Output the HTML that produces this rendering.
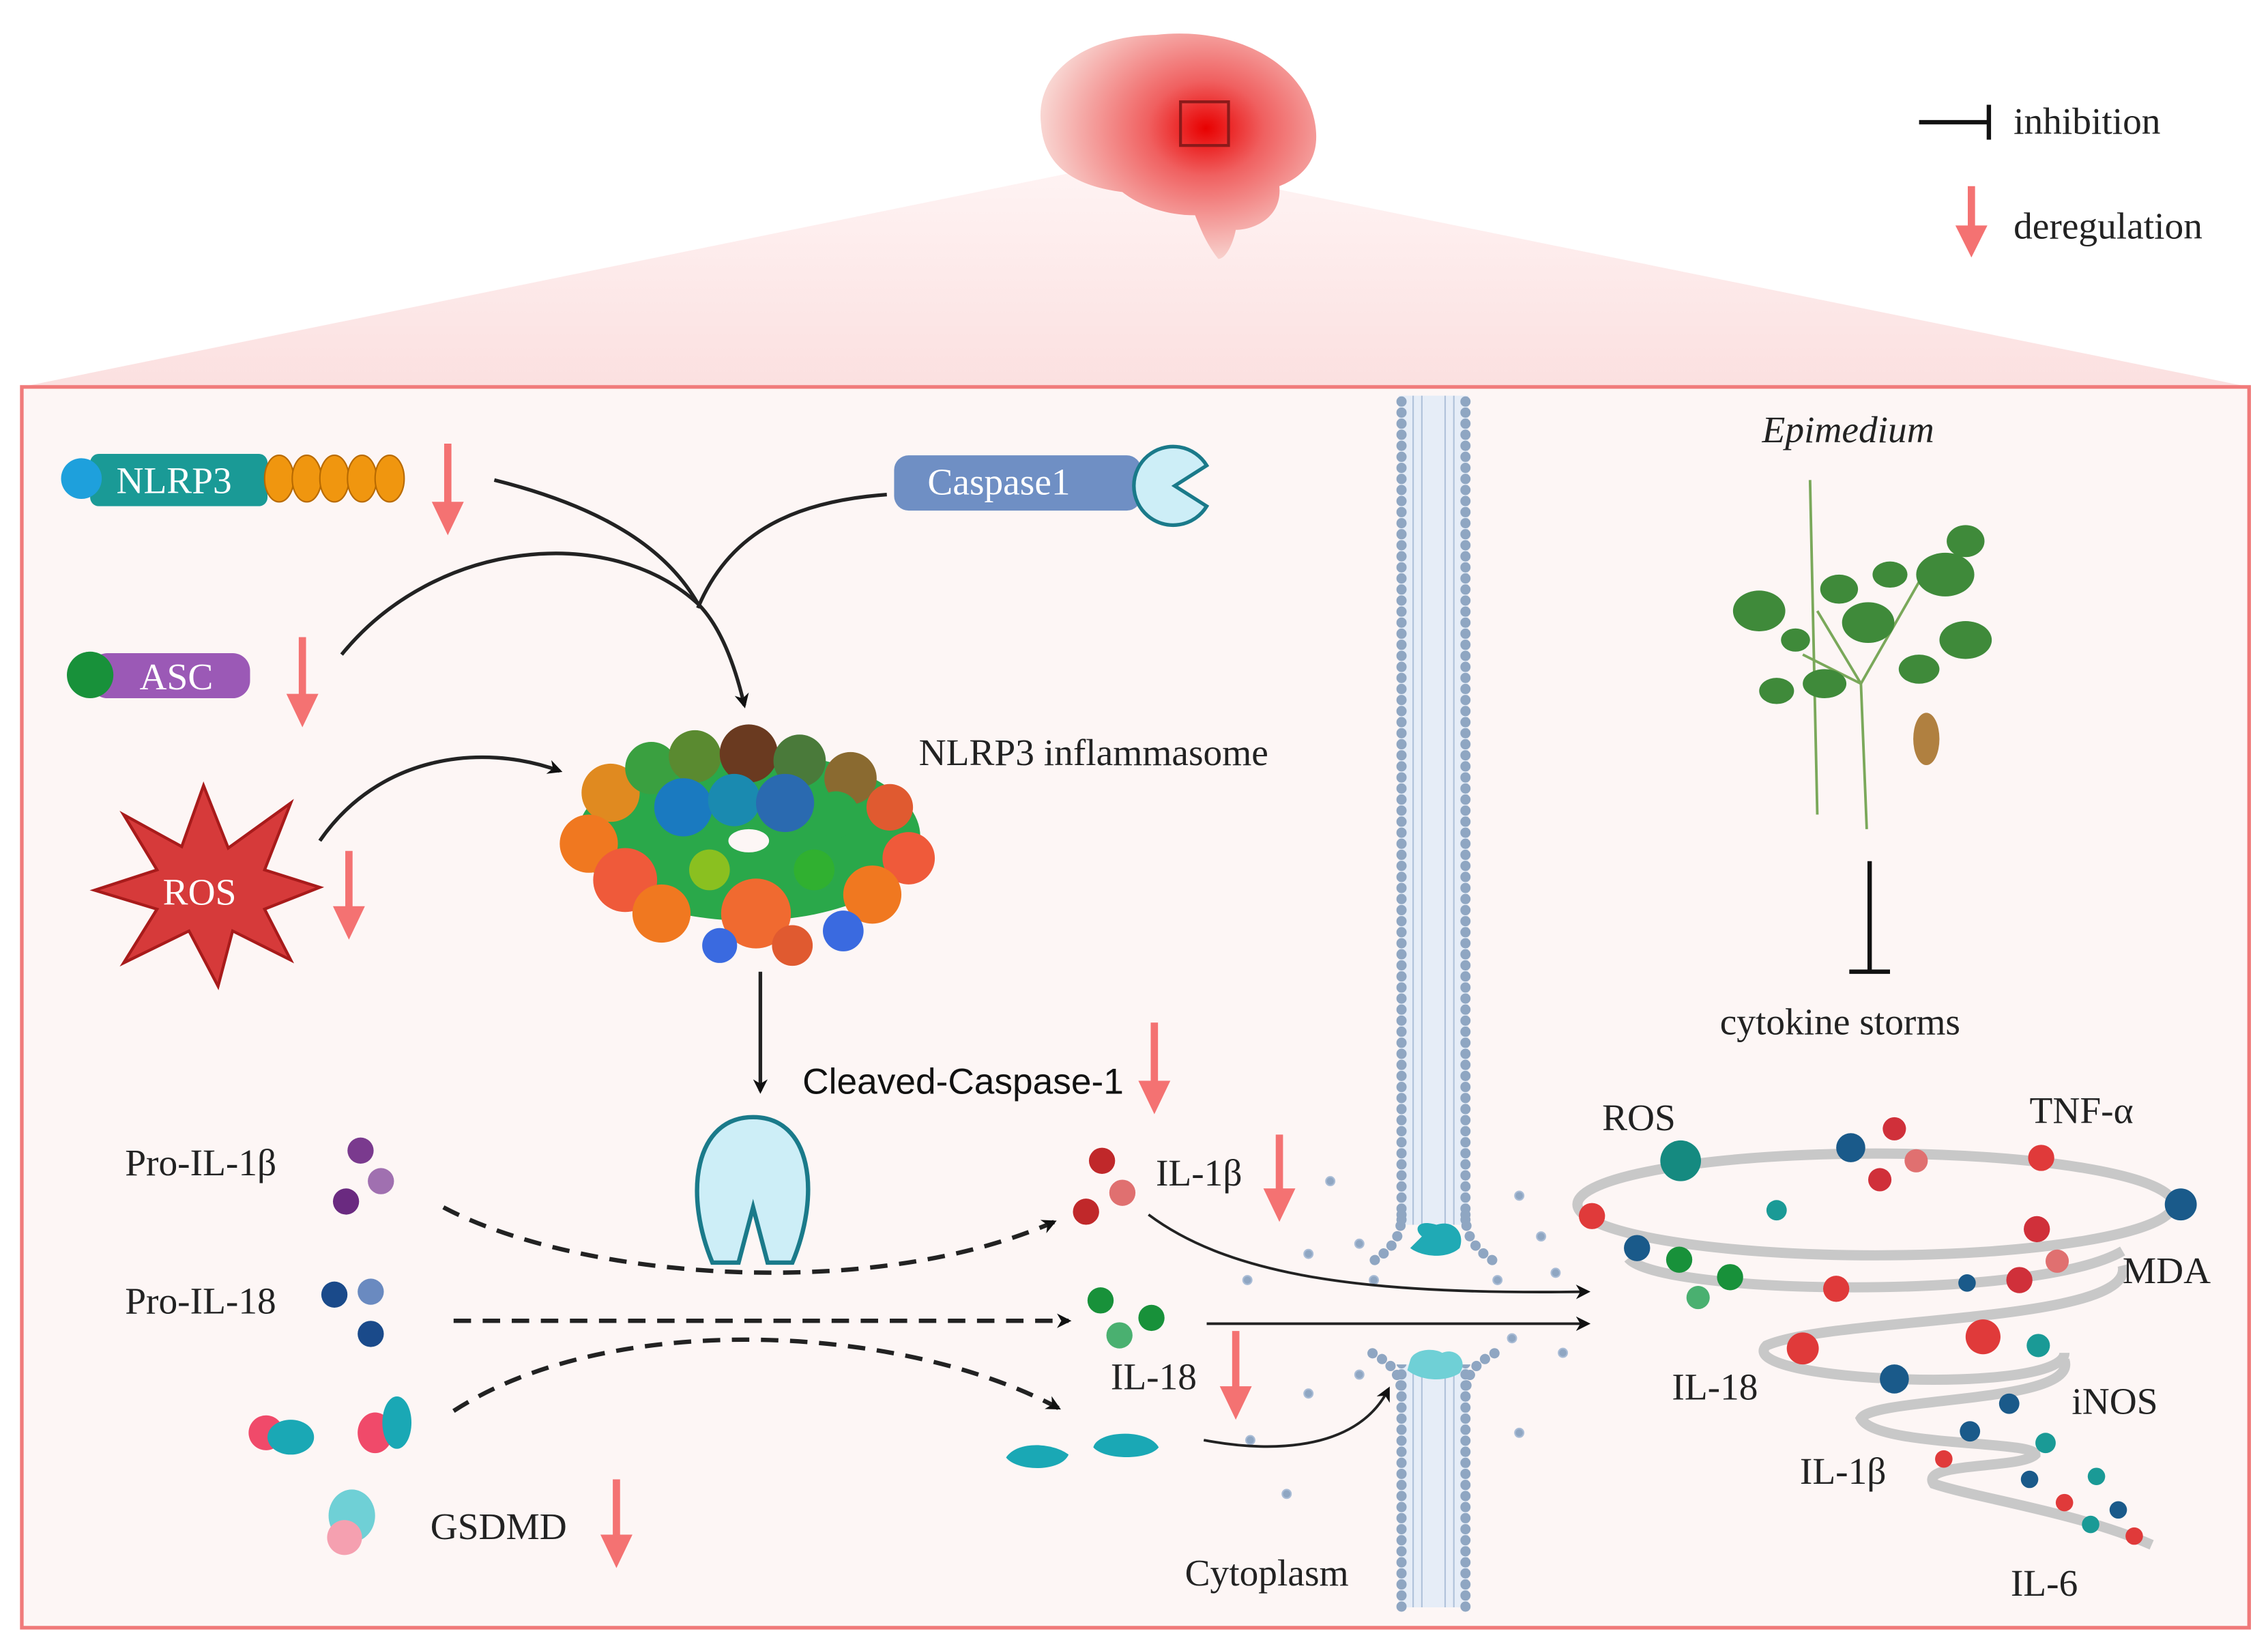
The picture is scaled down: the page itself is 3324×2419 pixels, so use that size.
<!DOCTYPE html>
<html><head><meta charset="utf-8"><style>
html,body{margin:0;padding:0;background:#fff}
svg{display:block}
text{font-family:"Liberation Serif",serif}
</style></head><body>
<svg width="3324" height="2419" viewBox="0 0 1560 1135" preserveAspectRatio="none" xmlns="http://www.w3.org/2000/svg">
<defs>
<linearGradient id="tri" x1="0" y1="0" x2="0" y2="1"><stop offset="0" stop-color="#fff4f4"/><stop offset="1" stop-color="#fbe0e0"/></linearGradient>
<radialGradient id="brainG" cx="0.6" cy="0.42" r="0.6"><stop offset="0" stop-color="#e80000"/><stop offset="0.35" stop-color="#f06060"/><stop offset="1" stop-color="#f8d6d2"/></radialGradient>
<marker id="ah" markerWidth="10" markerHeight="10" refX="8" refY="5" orient="auto" markerUnits="userSpaceOnUse"><path d="M0,0 L10,5 L0,10 L3,5z" fill="#111"/></marker>
</defs>
<polygon points="780,110 15,266 1547,266" fill="url(#tri)"/>
<rect x="15" y="266" width="1532" height="853" fill="#fdf6f5" stroke="#f07a7a" stroke-width="2.5"/>
<!-- brain -->
<path d="M716,85 C712,50 745,25 795,24 C845,18 895,40 904,82 C910,110 895,122 880,128 C882,150 862,158 850,158 C848,168 843,178 838,178 C830,168 826,158 822,148 C800,148 782,140 772,132 C740,128 718,115 716,85z" fill="url(#brainG)"/>
<rect x="812" y="70" width="33" height="30" fill="none" stroke="#8b1a1a" stroke-width="2"/>
<!-- legend -->
<line x1="1320" y1="84" x2="1368" y2="84" stroke="#111" stroke-width="3"/>
<line x1="1368" y1="72" x2="1368" y2="96" stroke="#111" stroke-width="3"/>
<text x="1385" y="92" font-size="26" fill="#222">inhibition</text>
<line x1="1356" y1="128" x2="1356" y2="160" stroke="#f47272" stroke-width="5"/>
<polygon points="1345,155 1367,155 1356,177" fill="#f47272"/>
<text x="1385" y="164" font-size="26" fill="#222">deregulation</text>
<!-- membrane -->
<rect x="962" y="272" width="48" height="833" fill="#e6edf7"/>
<g stroke="#b0c2da" stroke-width="1" fill="none">
<line x1="972" y1="272" x2="972" y2="1105"/><line x1="978" y1="272" x2="978" y2="1105"/><line x1="994" y1="272" x2="994" y2="1105"/><line x1="1000" y1="272" x2="1000" y2="1105"/>
</g>
<g stroke="#8fa6c2" stroke-width="7" stroke-dasharray="0.1,7.5" stroke-linecap="round" fill="none">
<line x1="964" y1="276" x2="964" y2="1105"/><line x1="1008" y1="276" x2="1008" y2="1105"/>
</g>
<rect x="950" y="842" width="72" height="96" fill="#fdf6f5"/>
<path d="M964,835 C964,855 952,862 940,870 M1008,835 C1008,855 1020,862 1032,870 M964,960 C964,940 952,935 940,928 M1008,960 C1008,940 1020,935 1032,928" stroke="#8fa6c2" stroke-width="7" stroke-dasharray="0.1,7.5" stroke-linecap="round" fill="none"/>
<path d="M978,850 C972,845 975,838 988,842 C1000,838 1008,848 1004,858 C995,866 978,864 970,858z" fill="#20aab5"/>
<path d="M970,935 C972,928 985,926 992,930 C1002,926 1010,936 1004,944 C995,950 978,950 968,942z" fill="#6fd0d6"/>
<g fill="#8fa6c2" stroke="#a9bcd6" stroke-width="1">
<circle cx="858" cy="880" r="3"/><circle cx="900" cy="862" r="3"/><circle cx="935" cy="855" r="3"/><circle cx="1045" cy="822" r="3"/><circle cx="1060" cy="850" r="3"/><circle cx="1070" cy="875" r="3"/><circle cx="900" cy="958" r="3"/><circle cx="935" cy="945" r="3"/><circle cx="1040" cy="920" r="3"/><circle cx="1075" cy="930" r="3"/><circle cx="1045" cy="985" r="3"/><circle cx="885" cy="1027" r="3"/><circle cx="860" cy="990" r="3"/><circle cx="915" cy="812" r="3"/><circle cx="945" cy="880" r="3"/><circle cx="1030" cy="880" r="3"/>
</g>
<!-- NLRP3 -->
<rect x="62" y="312" width="122" height="36" rx="6" fill="#1a9a96"/>
<circle cx="56" cy="329" r="14" fill="#1ea0dc"/>
<g fill="#f0960f" stroke="#b86a00" stroke-width="1"><ellipse cx="192" cy="329" rx="10" ry="16"/><ellipse cx="211" cy="329" rx="10" ry="16"/><ellipse cx="230" cy="329" rx="10" ry="16"/><ellipse cx="249" cy="329" rx="10" ry="16"/><ellipse cx="268" cy="329" rx="10" ry="16"/></g>
<text x="80" y="339" font-size="26" fill="#fff">NLRP3</text>
<rect x="62" y="449" width="110" height="31" rx="12" fill="#9b59b6"/>
<circle cx="62" cy="464" r="16" fill="#18913a"/>
<text x="96" y="474" font-size="26" fill="#fff">ASC</text>
<rect x="615" y="313" width="170" height="38" rx="10" fill="#6f8fc4"/>
<text x="638" y="340" font-size="26" fill="#fff">Caspase1</text>
<path d="M830,320 A27,27 0 1 0 830,348 L808,334z" fill="#cdeef7" stroke="#1a7a8a" stroke-width="2.5"/>
<polygon points="140,540 157,583 200,552 182,598 220,610 182,625 200,660 160,640 150,678 130,640 85,662 108,625 65,612 108,598 85,560 125,582" fill="#d63a3a" stroke="#a81b1b" stroke-width="2"/>
<text x="112" y="622" font-size="26" fill="#fff">ROS</text>
<g fill="#f47272" stroke="#f47272">
<line x1="308" y1="305" x2="308" y2="350" stroke-width="5"/><polygon points="297,345 319,345 308,368" stroke="none"/>
<line x1="208" y1="438" x2="208" y2="482" stroke-width="5"/><polygon points="197,477 219,477 208,500" stroke="none"/>
<line x1="240" y1="585" x2="240" y2="628" stroke-width="5"/><polygon points="229,623 251,623 240,646" stroke="none"/>
<line x1="794" y1="703" x2="794" y2="748" stroke-width="5"/><polygon points="783,743 805,743 794,766" stroke="none"/>
<line x1="880" y1="780" x2="880" y2="822" stroke-width="5"/><polygon points="869,817 891,817 880,840" stroke="none"/>
<line x1="850" y1="915" x2="850" y2="958" stroke-width="5"/><polygon points="839,953 861,953 850,976" stroke="none"/>
<line x1="424" y1="1017" x2="424" y2="1060" stroke-width="5"/><polygon points="413,1055 435,1055 424,1078" stroke="none"/>
</g>
<g fill="none" stroke="#222" stroke-width="2.5">
<path d="M340,330 C420,350 460,380 480,415"/>
<path d="M610,340 C540,345 500,370 480,418"/>
<path d="M235,450 C300,370 420,360 480,415 C495,430 505,455 512,485" marker-end="url(#ah)"/>
<path d="M220,578 C260,520 330,510 385,530" marker-end="url(#ah)"/>
<path d="M523,668 L523,750" marker-end="url(#ah)"/>
<path d="M790,835 C850,880 950,890 1092,888" stroke-width="1.8" marker-end="url(#ah)"/>
<path d="M830,910 L1092,910" stroke-width="1.8" marker-end="url(#ah)"/>
<path d="M828,990 C880,1000 935,995 955,955" stroke-width="1.8" marker-end="url(#ah)"/>
</g>
<g fill="none" stroke="#222" stroke-width="3" stroke-dasharray="12,8">
<path d="M305,830 C400,880 600,895 725,840" marker-end="url(#ah)"/>
<path d="M312,908 L735,908" marker-end="url(#ah)"/>
<path d="M312,970 C420,900 620,910 728,968" marker-end="url(#ah)"/>
</g>
<!-- inflammasome (textured) -->
<g>
<ellipse cx="515" cy="575" rx="118" ry="58" fill="#2aa84a"/>
<circle cx="420" cy="545" r="20" fill="#e08a20"/><circle cx="448" cy="528" r="18" fill="#3aa040"/><circle cx="478" cy="520" r="18" fill="#5a8a30"/><circle cx="515" cy="518" r="20" fill="#6a3a20"/><circle cx="550" cy="523" r="18" fill="#4a7a3a"/><circle cx="585" cy="535" r="18" fill="#8a6a30"/><circle cx="612" cy="555" r="16" fill="#e05a30"/>
<circle cx="470" cy="555" r="20" fill="#1a7ac0"/><circle cx="505" cy="550" r="18" fill="#1a8ab0"/><circle cx="540" cy="552" r="20" fill="#2a6ab0"/><circle cx="575" cy="560" r="16" fill="#2aa84a"/>
<circle cx="405" cy="580" r="20" fill="#f07820"/><circle cx="430" cy="605" r="22" fill="#ef5a3a"/><circle cx="455" cy="628" r="20" fill="#f07820"/><circle cx="625" cy="590" r="18" fill="#ef5a3a"/><circle cx="600" cy="615" r="20" fill="#f07820"/>
<circle cx="520" cy="628" r="24" fill="#f06a30"/><circle cx="495" cy="650" r="12" fill="#3a6ae0"/><circle cx="545" cy="650" r="14" fill="#e05a30"/><circle cx="580" cy="640" r="14" fill="#3a6ae0"/><circle cx="488" cy="598" r="14" fill="#8ac020"/><circle cx="560" cy="598" r="14" fill="#30b030"/>
<ellipse cx="515" cy="578" rx="14" ry="8" fill="#fdf6f5"/>
</g>
<text x="632" y="526" font-size="26" fill="#222">NLRP3 inflammasome</text>
<text x="552" y="752" font-size="25" fill="#111" style="font-family:'Liberation Sans',sans-serif">Cleaved-Caspase-1</text>
<path d="M518,768 C478,768 470,820 490,868 L508,868 L518,830 L528,868 L545,868 C565,820 558,768 518,768z" fill="#cdeef7" stroke="#1a7a8a" stroke-width="3"/>
<text x="86" y="808" font-size="26" fill="#222">Pro-IL-1β</text>
<circle cx="248" cy="791" r="9" fill="#7a3a8e"/><circle cx="262" cy="812" r="9" fill="#a070b0"/><circle cx="238" cy="826" r="9" fill="#6a2a80"/>
<text x="86" y="903" font-size="26" fill="#222">Pro-IL-18</text>
<circle cx="230" cy="890" r="9" fill="#1a4a8a"/><circle cx="255" cy="888" r="9" fill="#6a8ac0"/><circle cx="255" cy="917" r="9" fill="#1a4a8a"/>
<ellipse cx="183" cy="985" rx="12" ry="12" fill="#f04a6a"/><ellipse cx="200" cy="988" rx="16" ry="12" fill="#1aa8b5"/>
<ellipse cx="258" cy="985" rx="12" ry="14" fill="#f04a6a"/><ellipse cx="273" cy="978" rx="10" ry="18" fill="#1aa8b5"/>
<ellipse cx="242" cy="1042" rx="16" ry="18" fill="#6fd0d6"/><ellipse cx="237" cy="1057" rx="12" ry="12" fill="#f5a0b0"/>
<text x="296" y="1058" font-size="26" fill="#222">GSDMD</text>
<circle cx="758" cy="798" r="9" fill="#c0282a"/><circle cx="772" cy="820" r="9" fill="#e07070"/><circle cx="747" cy="833" r="9" fill="#c0282a"/>
<text x="795" y="815" font-size="26" fill="#222">IL-1β</text>
<circle cx="757" cy="894" r="9" fill="#18913a"/><circle cx="792" cy="906" r="9" fill="#18913a"/><circle cx="770" cy="918" r="9" fill="#4ab070"/>
<text x="764" y="955" font-size="26" fill="#222">IL-18</text>
<path d="M692,1002 C700,990 725,992 735,1000 C730,1012 700,1012 692,1002z" fill="#1aa8b5"/>
<path d="M752,995 C755,983 790,982 797,995 C790,1004 760,1004 752,995z" fill="#1aa8b5"/>
<text x="815" y="1090" font-size="26" fill="#222">Cytoplasm</text>
<!-- Epimedium -->
<text x="1212" y="304" font-size="26" font-style="italic" fill="#222">Epimedium</text>
<g stroke="#7aa85a" stroke-width="1.8" fill="none"><path d="M1284,570 L1280,470 L1250,420"/><path d="M1250,560 L1245,330"/><path d="M1280,470 L1320,400"/><path d="M1280,470 L1240,450"/></g>
<g fill="#3f8a3a">
<ellipse cx="1210" cy="420" rx="18" ry="14"/><ellipse cx="1255" cy="470" rx="15" ry="10"/><ellipse cx="1285" cy="428" rx="18" ry="14"/><ellipse cx="1338" cy="395" rx="20" ry="15"/><ellipse cx="1352" cy="440" rx="18" ry="13"/><ellipse cx="1222" cy="475" rx="12" ry="9"/><ellipse cx="1320" cy="460" rx="14" ry="10"/><ellipse cx="1265" cy="405" rx="13" ry="10"/><ellipse cx="1352" cy="372" rx="13" ry="11"/><ellipse cx="1300" cy="395" rx="12" ry="9"/><ellipse cx="1235" cy="440" rx="10" ry="8"/>
</g>
<ellipse cx="1325" cy="508" rx="9" ry="18" fill="#b08040"/>
<line x1="1286" y1="592" x2="1286" y2="668" stroke="#111" stroke-width="3"/>
<line x1="1272" y1="668" x2="1300" y2="668" stroke="#111" stroke-width="3"/>
<text x="1183" y="711" font-size="26" fill="#222">cytokine storms</text>
<g fill="none" stroke="#c8c8c8" stroke-width="7">
<ellipse cx="1290" cy="828" rx="205" ry="35"/>
<path d="M1120,865 C1140,890 1400,895 1460,860"/>
<path d="M1460,870 C1470,910 1260,905 1215,925 C1190,950 1420,960 1420,930"/>
<path d="M1420,935 C1430,965 1290,960 1280,975 C1290,995 1400,990 1400,1000 C1390,1010 1320,1005 1330,1020 C1360,1030 1430,1040 1480,1062"/>
</g>
<g>
<circle cx="1156" cy="798" r="14" fill="#158a80"/><circle cx="1095" cy="836" r="9" fill="#e03a3a"/><circle cx="1273" cy="789" r="10" fill="#1a5a8a"/><circle cx="1303" cy="776" r="8" fill="#d0303a"/><circle cx="1293" cy="811" r="8" fill="#d0303a"/><circle cx="1318" cy="798" r="8" fill="#e07070"/><circle cx="1404" cy="796" r="9" fill="#e03a3a"/><circle cx="1500" cy="828" r="11" fill="#1a5a8a"/><circle cx="1222" cy="832" r="7" fill="#1a9a96"/>
<circle cx="1126" cy="858" r="9" fill="#1a5a8a"/><circle cx="1155" cy="866" r="9" fill="#18913a"/><circle cx="1190" cy="878" r="9" fill="#18913a"/><circle cx="1168" cy="892" r="8" fill="#4ab070"/><circle cx="1263" cy="886" r="9" fill="#e03a3a"/><circle cx="1353" cy="882" r="6" fill="#1a5a8a"/><circle cx="1389" cy="880" r="9" fill="#d0303a"/><circle cx="1401" cy="845" r="9" fill="#d0303a"/><circle cx="1415" cy="867" r="8" fill="#e07070"/>
<circle cx="1240" cy="927" r="11" fill="#e03a3a"/><circle cx="1364" cy="919" r="12" fill="#e03a3a"/><circle cx="1402" cy="925" r="8" fill="#1a9a96"/><circle cx="1303" cy="948" r="10" fill="#1a5a8a"/><circle cx="1382" cy="965" r="7" fill="#1a5a8a"/><circle cx="1355" cy="984" r="7" fill="#1a5a8a"/><circle cx="1407" cy="992" r="7" fill="#1a9a96"/><circle cx="1337" cy="1003" r="6" fill="#e03a3a"/><circle cx="1442" cy="1015" r="6" fill="#1a9a96"/><circle cx="1396" cy="1017" r="6" fill="#1a5a8a"/><circle cx="1420" cy="1033" r="6" fill="#e03a3a"/><circle cx="1457" cy="1038" r="6" fill="#1a5a8a"/><circle cx="1438" cy="1048" r="6" fill="#1a9a96"/><circle cx="1468" cy="1056" r="6" fill="#e03a3a"/>
</g>
<g font-size="26" fill="#222">
<text x="1102" y="777">ROS</text><text x="1396" y="772">TNF-α</text><text x="1460" y="882">MDA</text><text x="1150" y="962">IL-18</text><text x="1425" y="972">iNOS</text><text x="1238" y="1020">IL-1β</text><text x="1383" y="1097">IL-6</text>
</g>
</svg>
</body></html>
